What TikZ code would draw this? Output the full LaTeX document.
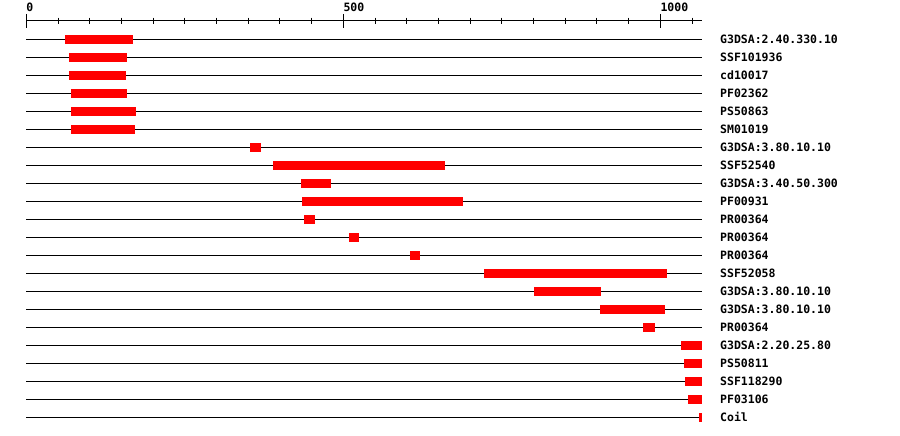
\documentclass[tikz,border=0pt]{standalone}
\usepackage{fontspec}
\setmonofont{DejaVu Sans Mono}
\begin{document}
\begin{tikzpicture}[x=1pt,y=-1pt,
  track/.style={line width=1pt,black},
  hit/.style={fill={rgb,255:red,255;green,0;blue,0},draw=none},
  lbl/.style={anchor=west,inner sep=0pt,font=\ttfamily\bfseries\fontsize{11.5}{12}\selectfont},
  axlbl/.style={anchor=south west,inner sep=0pt,font=\ttfamily\bfseries\fontsize{11.5}{12}\selectfont}]
\useasboundingbox (0,0) rectangle (900,436);
% axis
\draw[track] (26.3,21) -- (702,21);
\foreach \i in {0,...,21}{
  \pgfmathsetmacro{\xx}{26.3+\i*50*0.634}
  \draw[track] (\xx,17.7) -- (\xx,24.3);
}
\foreach \v in {0,500,1000}{
  \pgfmathsetmacro{\xx}{26.3+\v*0.634}
  \draw[track] (\xx,14) -- (\xx,28);
  \node[axlbl] (ax\v) at (\xx,11.8) {\v};
}
% rows
\foreach \r/\a/\b/\t in {
  0/65/133/G3DSA:2.40.330.10,
  1/69/127/SSF101936,
  2/69/126/cd10017,
  3/71/127/PF02362,
  4/71/136/PS50863,
  5/71/135/SM01019,
  6/250/261/G3DSA:3.80.10.10,
  7/273/445/SSF52540,
  8/301/331/G3DSA:3.40.50.300,
  9/302/463/PF00931,
  10/304/315/PR00364,
  11/349/359/PR00364,
  12/410/420/PR00364,
  13/484/667/SSF52058,
  14/534/601/G3DSA:3.80.10.10,
  15/600/665/G3DSA:3.80.10.10,
  16/643/655/PR00364,
  17/681/702/G3DSA:2.20.25.80,
  18/684/702/PS50811,
  19/685/702/SSF118290,
  20/688/702/PF03106,
  21/699/702/Coil}{
  \pgfmathsetmacro{\yy}{39.3+\r*18}
  \draw[track] (26.3,\yy) -- (702,\yy);
  \fill[hit] (\a,\yy-4.5) rectangle (\b,\yy+4.5);
  \node[lbl] (row\r) at (720,\yy) {\t};
}
\end{tikzpicture}
\end{document}
